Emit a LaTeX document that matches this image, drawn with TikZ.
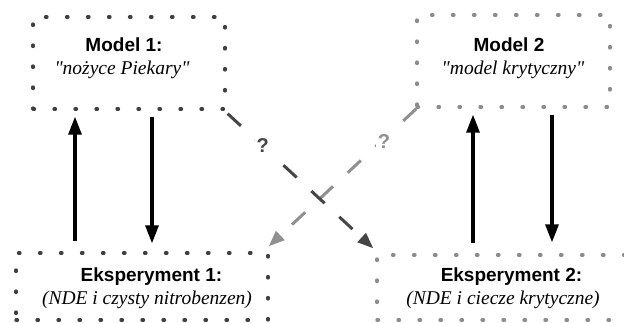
\documentclass[tikz,border=0pt]{standalone}
\usepackage{fontspec}
\setmainfont{Liberation Serif}
\setsansfont{Liberation Sans}
\usetikzlibrary{arrows.meta}
\definecolor{dk}{HTML}{404040}
\definecolor{lt}{HTML}{8C8C8C}
\definecolor{dkarr}{HTML}{454545}
\definecolor{ltarr}{HTML}{909090}
\tikzset{
  dotbox/.style={draw, rectangle, line width=3.3pt, line cap=round,
     dash pattern=on 1.5pt off 19.5pt, inner sep=0pt},
  titletxt/.style={font=\sffamily\bfseries\fontsize{19}{22}\selectfont, inner sep=0pt},
  subtxt/.style={font=\itshape\fontsize{19.5}{22}\selectfont, inner sep=0pt},
  varrow/.style={line width=3.2pt, -{Triangle[length=18pt,width=13pt]}},
  darr/.style={line width=3pt, dash pattern=on 18pt off 20pt,
     -{Triangle[length=16pt,width=12pt]}},
  qmark/.style={font=\sffamily\bfseries\fontsize{20}{22}\selectfont, fill=white, inner sep=2pt},
}
\begin{document}
\begin{tikzpicture}[x=1pt,y=-1pt]
\useasboundingbox (0,0) rectangle (624,322);
\clip (0,0) rectangle (624,322);
% boxes
\node[dotbox, dk, minimum width=192pt, minimum height=92pt] (m1) at (129,63) {};
\node[dotbox, lt, minimum width=193pt, minimum height=92pt] (m2) at (513.5,61) {};
\node[dotbox, dk, minimum width=252pt, minimum height=67pt] (e1) at (142,286.5) {};
\node[dotbox, lt, minimum width=270pt, minimum height=65pt] (e2) at (512,287.5) {};
% texts
\node[titletxt] (m1t) at (124,45) {Model 1:};
\node[subtxt] (m1s) at (122,70) {\textquotedbl nożyce Piekary\textquotedbl};
\node[titletxt] (m2t) at (509,45) {Model 2};
\node[subtxt] (m2s) at (513,70) {\textquotedbl model krytyczny\textquotedbl};
\node[titletxt] (e1t) at (151.5,277) {Eksperyment 1:};
\node[subtxt] (e1s) at (147,300) {(NDE i czysty nitrobenzen)};
\node[titletxt] (e2t) at (511.5,277) {Eksperyment 2:};
\node[subtxt] (e2s) at (503,300) {(NDE i ciecze krytyczne)};
% vertical arrows
\draw[varrow] ([xshift=-67pt,yshift=10pt]e1.north) -- ([xshift=-54pt,yshift=-6pt]m1.south);
\draw[varrow] ([xshift=23pt,yshift=-6pt]m1.south) -- ([xshift=10pt,yshift=8pt]e1.north);
\draw[varrow] ([xshift=-39pt,yshift=10pt]e2.north) -- ([xshift=-40.5pt,yshift=-6pt]m2.south);
\draw[varrow] ([xshift=38.5pt,yshift=-6pt]m2.south) -- ([xshift=40pt,yshift=11pt]e2.north);
% dashed diagonal arrows
\draw[darr, ltarr] ([xshift=1pt]m2.south west) -- ([xshift=-1pt,yshift=5pt]e1.north east)
   node[qmark, text=ltarr, pos=0.24, xshift=3pt] (q2) {?};
\draw[darr, dkarr] ([xshift=1pt,yshift=-3pt]m1.south east) -- ([xshift=-2pt,yshift=5pt]e2.north west)
   node[qmark, text=dkarr, pos=0.24] (q1) {?};
\end{tikzpicture}
\end{document}
